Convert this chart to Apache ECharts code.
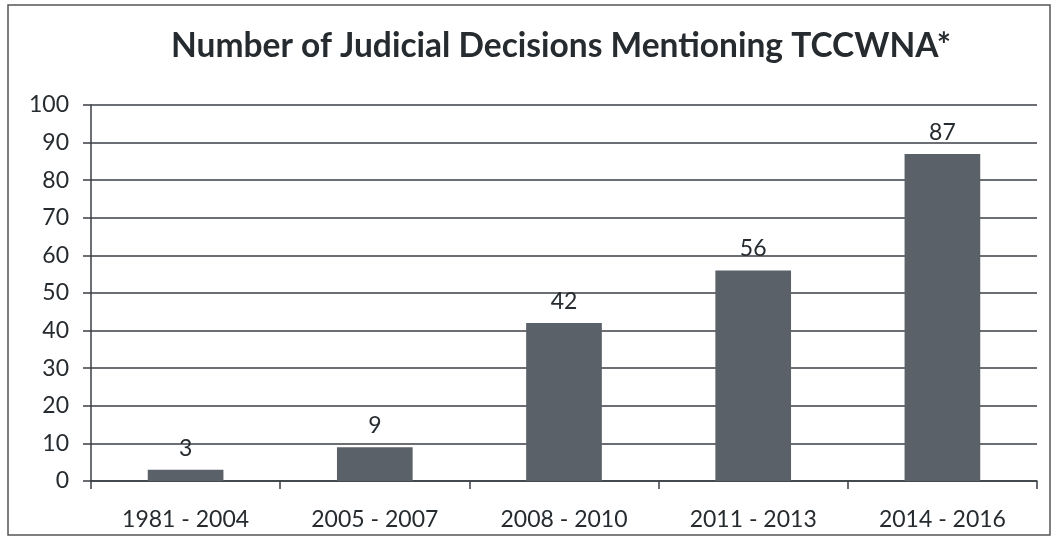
<!DOCTYPE html>
<html>
<head>
<meta charset="utf-8">
<script src="https://cdn.jsdelivr.net/npm/echarts@6/dist/echarts.min.js"></script>
<style>
html,body{margin:0;padding:0;background:#fff;}
#main{width:1055px;height:548px;}
</style>
</head>
<body>
<div id="main"></div>
<script>
// 数据
var categories = ['1981 - 2004', '2005 - 2007', '2008 - 2010', '2011 - 2013', '2014 - 2016'];
var decisions = [3, 9, 42, 56, 87];
var yTicks = [0, 10, 20, 30, 40, 50, 60, 70, 80, 90, 100];

var myChart = echarts.init(document.getElementById('main'));
var option = {
	backgroundColor: '#fff',
	title: {
		text: 'Number of Judicial Decisions Mentioning TCCWNA*',
		left: 556,
		top: 24,
		textAlign: 'center',
		textStyle: {
			fontFamily: 'Lato',
			fontWeight: 'bold',
			fontSize: 33.5,
			color: '#262b30'
		}
	},
	graphic: [{
		type: 'rect',
		shape: {x: 8, y: 5, width: 1042, height: 530},
		style: {fill: 'none', stroke: '#555', lineWidth: 1.5},
		silent: true
	}],
	grid: {
		left: 91,
		right: 18,
		top: 105,
		bottom: 67,
		containLabel: false
	},
	xAxis: {
		type: 'category',
		data: categories,
		axisLine: {show: true, lineStyle: {color: '#3a3f44', width: 1.5}},
		axisTick: {show: true, alignWithLabel: false, length: 8, lineStyle: {color: '#3a3f44', width: 1.5}},
		axisLabel: {
			margin: 27,
			fontFamily: 'Lato',
			fontSize: 23,
			color: '#262b30'
		}
	},
	yAxis: {
		type: 'value',
		min: yTicks[0],
		max: yTicks[yTicks.length - 1],
		interval: 10,
		axisLine: {show: true, lineStyle: {color: '#3a3f44', width: 1.5}},
		axisTick: {show: true, length: 8, inside: false, lineStyle: {color: '#3a3f44', width: 1.5}},
		splitLine: {show: true, lineStyle: {color: '#3a3f44', width: 1.5}},
		axisLabel: {
			margin: 22,
			fontFamily: 'Lato',
			fontSize: 23,
			color: '#262b30'
		}
	},
	series: [{
		type: 'bar',
		data: decisions,
		barWidth: '40%',
		itemStyle: {color: '#5b6168'},
		label: {
			show: true,
			position: 'top',
			distance: 10,
			fontFamily: 'Lato',
			fontSize: 23,
			color: '#262b30'
		}
	}]
};
myChart.setOption(option);
</script>
</body>
</html>
